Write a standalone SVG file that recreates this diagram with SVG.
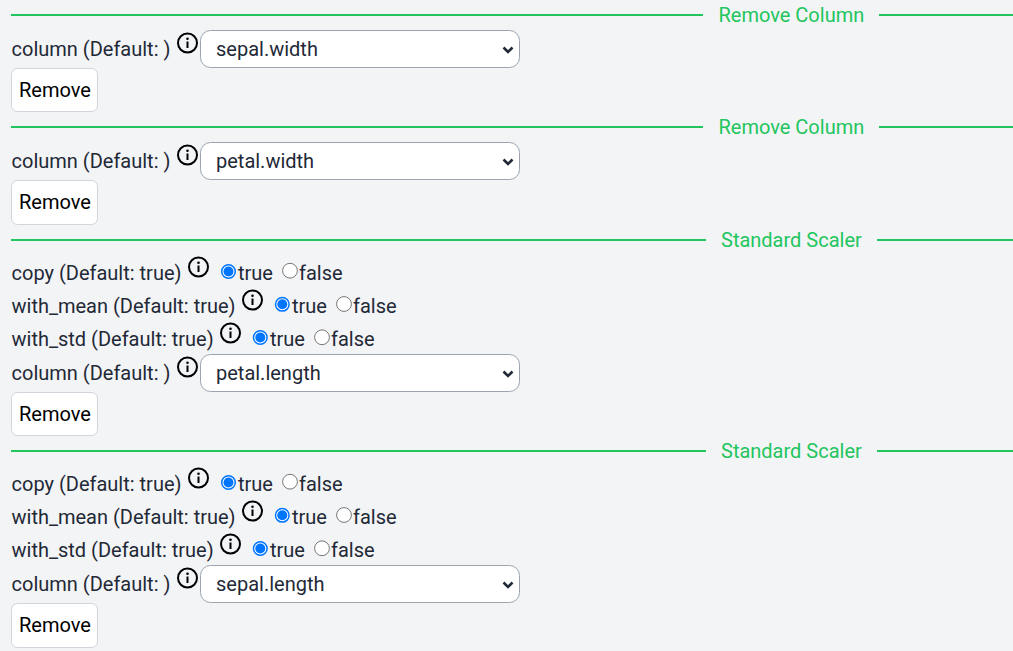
<svg xmlns="http://www.w3.org/2000/svg" width="1013" height="651" viewBox="0 0 1013 651">
<style>
text{font-family:Roboto,"Liberation Sans",sans-serif;font-size:20px;fill:#1f2937}
.h{fill:#22c55e}
.b{fill:#000}
.sel{fill:#fff;stroke:#9ca3af;stroke-width:1}
.btn{fill:#fff;stroke:#d1d5db;stroke-width:1}
.rule{stroke:#22c55e;stroke-width:2;fill:none}
.ic{fill:none;stroke:#000;stroke-width:2}
.chev{fill:none;stroke:#1f2937;stroke-width:2.6}
.on{fill:#fff;stroke:#0075ff;stroke-width:1.5}
.dot{fill:#0075ff}
.off{fill:#fff;stroke:#767676;stroke-width:1}
</style>
<defs>
<g id="info"><circle cx="0" cy="0" r="9.5" class="ic"/><rect x="-1" y="-1.5" width="2" height="6.5" fill="#000"/><circle cx="0" cy="-4.3" r="1.3" fill="#000"/></g>
<g id="radOn"><circle r="6.8" class="on"/><circle r="5" class="dot"/></g>
<g id="radOff"><circle r="7.4" class="off"/></g>
</defs>
<rect width="1013" height="651" fill="#f3f4f6"/>
<g id="connectors">
<path class="rule" d="M11 15H703M879 15H1013M11 127H703M879 127H1013M11 240H706M877 240H1013M11 451H706M877 451H1013"/>
</g>
<g id="section-remove-1">
<text class="h" x="718.500" y="22">Remove Column</text>
<text x="11.500" y="56">column (Default: )</text>
<use href="#info" x="187.500" y="43"/>
<rect class="sel" x="200.500" y="30.500" width="319" height="37" rx="10"/>
<text x="216" y="56">sepal.width</text>
<path class="chev" d="M503.500 47.500l4.500 4.500 4.500-4.500"/>
<rect class="btn" x="11.500" y="68.500" width="86" height="43" rx="6"/>
<text class="b" x="19" y="97">Remove</text>
</g>
<g id="section-remove-2">
<text class="h" x="718.500" y="134">Remove Column</text>
<text x="11.500" y="168">column (Default: )</text>
<use href="#info" x="187.500" y="155"/>
<rect class="sel" x="200.500" y="142.500" width="319" height="37" rx="10"/>
<text x="216" y="168">petal.width</text>
<path class="chev" d="M503.500 159.500l4.500 4.500 4.500-4.500"/>
<rect class="btn" x="11.500" y="180.500" width="86" height="44" rx="6"/>
<text class="b" x="19" y="209">Remove</text>
</g>
<g id="section-scaler-1">
<text class="h" x="721" y="247">Standard Scaler</text>
<text x="11.500" y="280">copy (Default: true)</text>
<use href="#info" x="198.500" y="267"/>
<use href="#radOn" x="228.500" y="271.500"/>
<text x="238" y="280">true</text>
<use href="#radOff" x="290" y="270.700"/>
<text x="299" y="280">false</text>
<text x="11.500" y="313">with_mean (Default: true)</text>
<use href="#info" x="252.500" y="300"/>
<use href="#radOn" x="282.300" y="304.300"/>
<text x="292" y="313">true</text>
<use href="#radOff" x="344" y="304"/>
<text x="353" y="313">false</text>
<text x="11.500" y="346">with_std (Default: true)</text>
<use href="#info" x="230.500" y="333"/>
<use href="#radOn" x="260.300" y="337.500"/>
<text x="270" y="346">true</text>
<use href="#radOff" x="322" y="337.300"/>
<text x="331" y="346">false</text>
<text x="11.500" y="380">column (Default: )</text>
<use href="#info" x="187.500" y="367"/>
<rect class="sel" x="200.500" y="354.500" width="319" height="37" rx="10"/>
<text x="216" y="380">petal.length</text>
<path class="chev" d="M503.500 371.500l4.500 4.500 4.500-4.500"/>
<rect class="btn" x="11.500" y="392.500" width="86" height="43" rx="6"/>
<text class="b" x="19" y="421">Remove</text>
</g>
<g id="section-scaler-2">
<text class="h" x="721" y="458">Standard Scaler</text>
<text x="11.500" y="491">copy (Default: true)</text>
<use href="#info" x="198.500" y="478"/>
<use href="#radOn" x="228.500" y="482.500"/>
<text x="238" y="491">true</text>
<use href="#radOff" x="290" y="481.700"/>
<text x="299" y="491">false</text>
<text x="11.500" y="524">with_mean (Default: true)</text>
<use href="#info" x="252.500" y="511"/>
<use href="#radOn" x="282.300" y="515.300"/>
<text x="292" y="524">true</text>
<use href="#radOff" x="344" y="515"/>
<text x="353" y="524">false</text>
<text x="11.500" y="557">with_std (Default: true)</text>
<use href="#info" x="230.500" y="544"/>
<use href="#radOn" x="260.300" y="548.500"/>
<text x="270" y="557">true</text>
<use href="#radOff" x="322" y="548.300"/>
<text x="331" y="557">false</text>
<text x="11.500" y="591">column (Default: )</text>
<use href="#info" x="187.500" y="578"/>
<rect class="sel" x="200.500" y="565.500" width="319" height="37" rx="10"/>
<text x="216" y="591">sepal.length</text>
<path class="chev" d="M503.500 582.500l4.500 4.500 4.500-4.500"/>
<rect class="btn" x="11.500" y="603.500" width="86" height="44" rx="6"/>
<text class="b" x="19" y="632">Remove</text>
</g>
</svg>
